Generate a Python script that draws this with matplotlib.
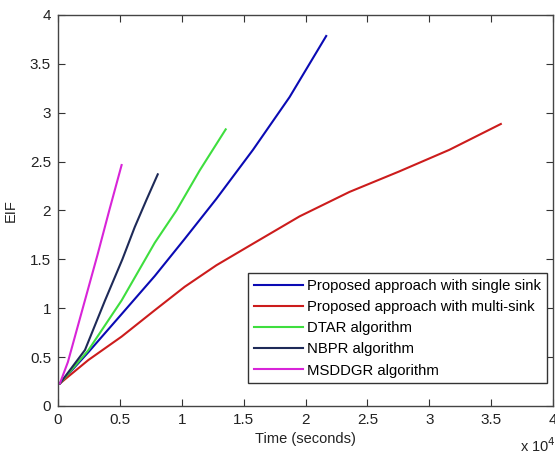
import numpy as np
import matplotlib.pyplot as plt

plt.rcParams["font.family"] = ["Liberation Sans", "DejaVu Sans"]
plt.rcParams["font.size"] = 10.7

# EIF over time for each routing scheme (time in seconds)
t_single = [150, 2450, 5140, 7820, 10240, 12800, 15750, 18710, 21670]
eif_single = [0.23, 0.55, 0.94, 1.33, 1.71, 2.12, 2.62, 3.16, 3.785]

t_multi = [150, 2450, 5140, 7820, 10240, 12800, 15480, 19520, 23550, 27580, 31610, 35780]
eif_multi = [0.23, 0.47, 0.71, 0.98, 1.22, 1.44, 1.64, 1.94, 2.19, 2.40, 2.62, 2.885]

t_dtar = [150, 2450, 5140, 7820, 9570, 11450, 13550]
eif_dtar = [0.23, 0.57, 1.08, 1.67, 2.0, 2.41, 2.83]

t_nbpr = [150, 2180, 3800, 5200, 6200, 7150, 8060]
eif_nbpr = [0.23, 0.573, 1.08, 1.5, 1.83, 2.11, 2.37]

t_msddgr = [150, 800, 2000, 3200, 4140, 5140]
eif_msddgr = [0.23, 0.45, 1.0, 1.55, 2.0, 2.465]

labels = ["Proposed approach with single sink", "Proposed approach with multi-sink",
          "DTAR algorithm", "NBPR algorithm", "MSDDGR algorithm"]
colors = ["#0a0ab4", "#cc1c1c", "#3ede3e", "#1e2a58", "#d824d8"]

fig = plt.figure(figsize=(5.55, 4.57), dpi=100)
ax = fig.add_axes([0.1045, 0.1116, 0.892, 0.8556])

series = [(t_single, eif_single), (t_multi, eif_multi), (t_dtar, eif_dtar),
          (t_nbpr, eif_nbpr), (t_msddgr, eif_msddgr)]
for (t, e), lab, c in zip(series, labels, colors):
    ax.plot(t, e, color=c, lw=1.5, label=lab, solid_joinstyle="round")

ax.set_xlim(0, 40000)
ax.set_ylim(0, 4)
xt = np.arange(0, 40001, 5000)
ax.set_xticks(xt)
ax.set_xticklabels(["%g" % (v / 1e4) for v in xt])
yt = np.arange(0, 4.01, 0.5)
ax.set_yticks(yt)
ax.set_yticklabels(["%g" % v for v in yt])
ax.tick_params(direction="in", length=5, top=True, right=True, colors="#333333",
               labelcolor="#222222", labelsize=11, pad=5)
for s in ax.spines.values():
    s.set_color("#444444")
    s.set_linewidth(1.0)

ax.set_xlabel("Time (seconds)", labelpad=4, color="#222222", fontsize=10.5)
ax.set_ylabel("EIF", labelpad=9, color="#222222", fontsize=10.5)
fig.text(0.937, 0.012, r"x 10$^{4}$", fontsize=10.5, color="#222222")

leg = ax.legend(loc="upper right", bbox_to_anchor=(0.988, 0.340), borderaxespad=0,
                fancybox=False, framealpha=1, edgecolor="#333333", handlelength=3.3,
                handletextpad=0.3, labelspacing=0.48, borderpad=0.4, fontsize=10.7)
leg.get_frame().set_linewidth(1.0)

fig.savefig("out.png", dpi=100)
